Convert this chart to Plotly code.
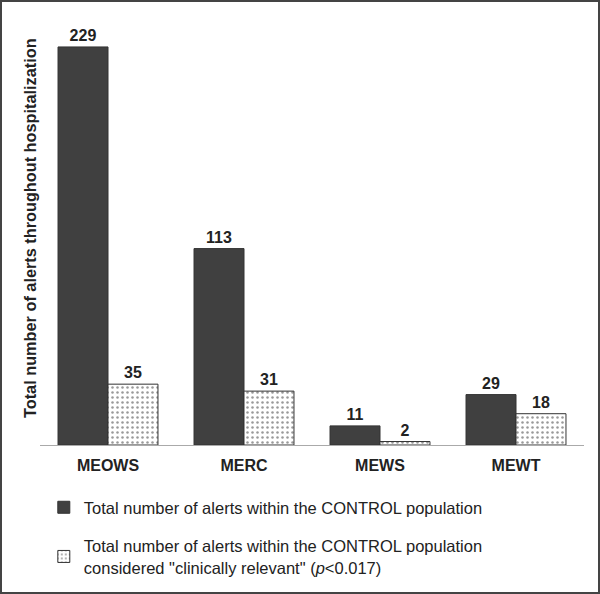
import plotly.graph_objects as go

categories = ["MEOWS", "MERC", "MEWS", "MEWT"]
control_alerts = [229, 113, 11, 29]
relevant_alerts = [35, 31, 2, 18]
series_names = [
    "Total number of alerts within the CONTROL population",
    "Total number of alerts within the CONTROL population<br>considered \"clinically relevant\" (<i>p</i><0.017)",
]
y_title = "Total number of alerts throughout hospitalization"

FONT = "Liberation Sans, Arial, sans-serif"
DARK = "#404040"

fig = go.Figure()
fig.add_trace(go.Bar(
    x=categories, y=control_alerts, name=series_names[0], legendgroup="a",
    marker=dict(color=DARK, line=dict(color="#333333", width=1)),
    text=control_alerts, textposition="outside", cliponaxis=False,
    textfont=dict(family=FONT, size=16, color="#222222", weight="bold"),
))
fig.add_trace(go.Bar(
    x=categories, y=relevant_alerts, name=series_names[1], legendgroup="b",
    marker=dict(color="white", line=dict(color="#333333", width=1),
                pattern=dict(shape=".", fgcolor="#333333", bgcolor="white", size=5, solidity=0.2)),
    text=relevant_alerts, textposition="outside", cliponaxis=False,
    textfont=dict(family=FONT, size=16, color="#222222", weight="bold"),
))

PH = 425.0  # plot height in px
BASE = 445.0  # baseline y in px

fig.update_layout(
    width=600, height=594,
    margin=dict(l=40, r=16, t=20, b=149, autoexpand=False),
    paper_bgcolor="white", plot_bgcolor="white",
    barmode="group", bargap=0.265, bargroupgap=0,
    font=dict(family=FONT, size=16, color="#222222"),
    xaxis=dict(showline=True, linecolor="#aaaaaa", linewidth=1, ticks="",
               ticklabelstandoff=6,
               tickfont=dict(family=FONT, size=16, color="#222222", weight="bold"),
               showgrid=False, zeroline=False),
    yaxis=dict(range=[0, 244.5], showticklabels=False, showgrid=False,
               zeroline=False, showline=False, ticks=""),
    showlegend=True,
    legend=dict(x=0.007, y=-0.106, xanchor="left", yanchor="top",
                font=dict(family=FONT, size=16.5, color="#222222"),
                tracegroupgap=14, bgcolor="rgba(0,0,0,0)"),
    annotations=[dict(
        text="<b>" + y_title + "</b>", textangle=-90, xref="paper", yref="paper",
        x=-10 / 544, y=(BASE - 228) / PH, xanchor="center", yanchor="middle", showarrow=False,
        font=dict(family=FONT, size=16.3, color="#222222"),
    )],
    shapes=[dict(type="rect", xref="paper", yref="paper",
                 x0=-39 / 544, x1=(599 - 40) / 544, y0=(BASE - 593) / PH, y1=(BASE - 1) / PH,
                 line=dict(color="#444444", width=2), fillcolor="rgba(0,0,0,0)", layer="below")],
)

fig.write_html(
    "out.html", config={"displayModeBar": False},
    post_script="document.body.style.margin='0';document.body.style.overflow='hidden';",
)
